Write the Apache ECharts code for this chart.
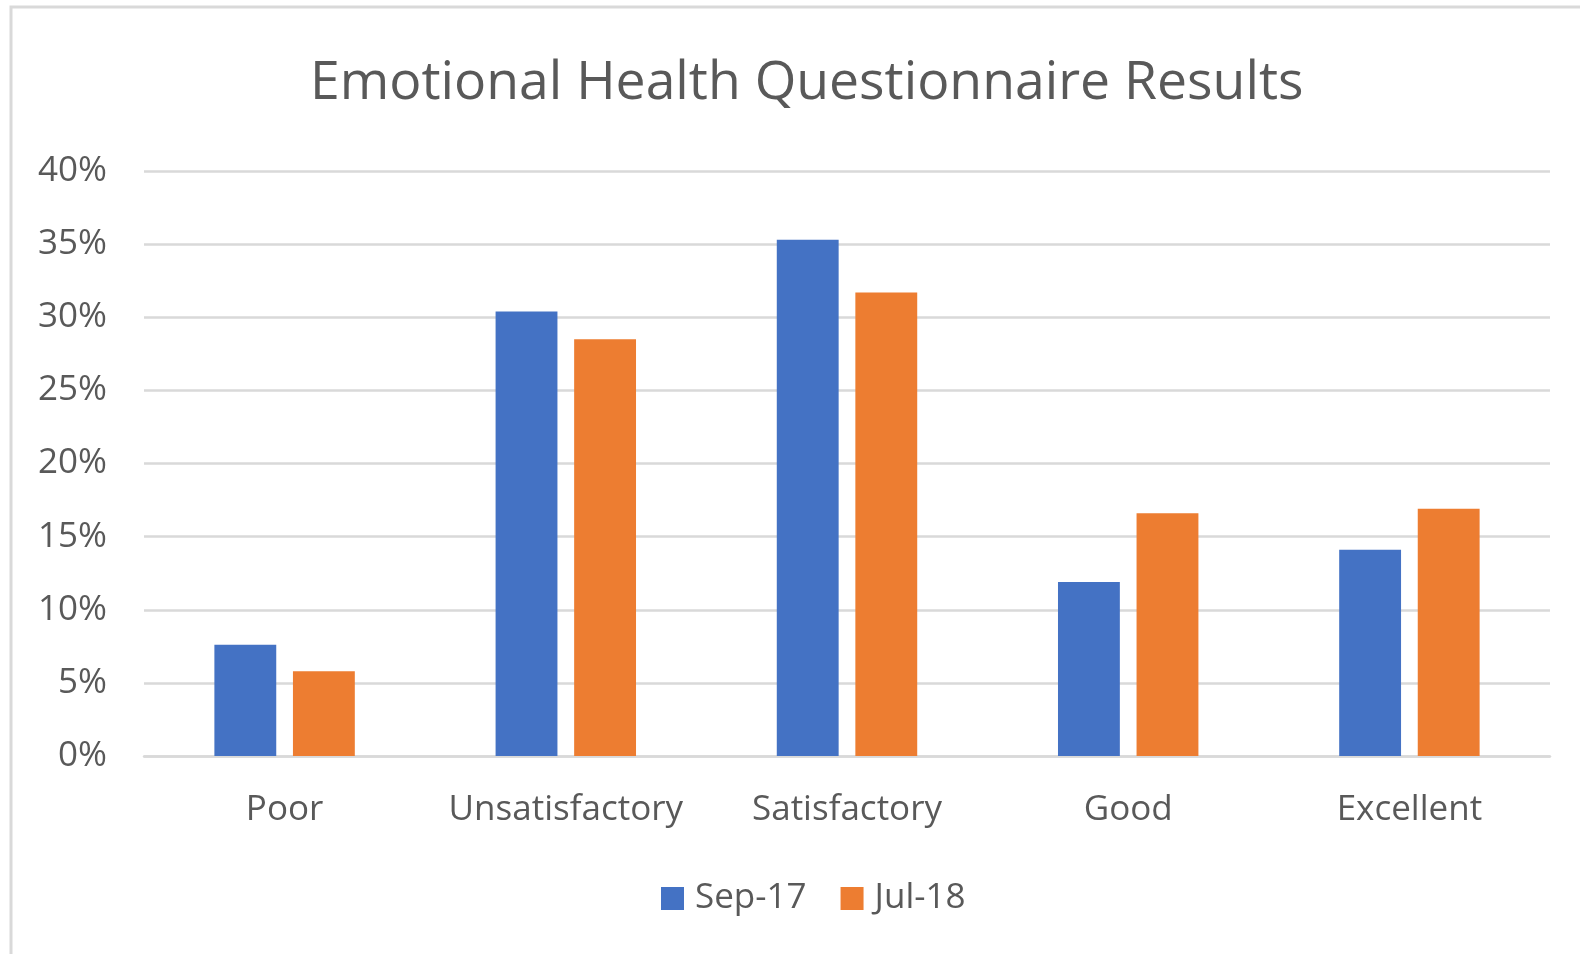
<!DOCTYPE html>
<html>
<head>
<meta charset="utf-8">
<script src="https://cdn.jsdelivr.net/npm/echarts@6/dist/echarts.min.js"></script>
<style>
  html, body { margin: 0; padding: 0; background: #fff; }
  #main { width: 1580px; height: 954px; }
</style>
</head>
<body>
<div id="main"></div>
<script>
// 数据
const categories = ["Poor", "Unsatisfactory", "Satisfactory", "Good", "Excellent"];
const seriesNames = ["Sep-17", "Jul-18"];
const sep17 = [7.6, 30.4, 35.3, 11.9, 14.1];
const jul18 = [5.8, 28.5, 31.7, 16.6, 16.9];
const yTicks = { min: 0, max: 40, interval: 5 };

const textColor = "#595959";
const lineColor = "#d9d9d9";
const fontFamily = "'Open Sans', 'Noto Sans', sans-serif";

const option = {
  backgroundColor: "#fff",
  title: {
    text: "Emotional Health Questionnaire Results",
    left: 305,
    top: 52,
    textStyle: { color: textColor, fontSize: 53.5, fontWeight: "normal", fontFamily: fontFamily }
  },
  graphic: [{
    // 外框
    type: "rect",
    shape: { x: 11, y: 7, width: 1600, height: 1000 },
    style: { fill: "none", stroke: lineColor, lineWidth: 3 },
    silent: true
  }],
  legend: {
    data: seriesNames,
    bottom: 33,
    left: 656,
    itemWidth: 23,
    itemHeight: 23,
    itemGap: 34,
    icon: "rect",
    textStyle: { color: textColor, fontSize: 35, fontFamily: fontFamily, padding: [0, 0, 0, 6] }
  },
  grid: { left: 144, right: 30, top: 171, bottom: 198 },
  xAxis: {
    type: "category",
    data: categories,
    axisLine: { lineStyle: { color: lineColor, width: 2.5 } },
    axisTick: { show: false },
    axisLabel: { color: textColor, fontSize: 35, fontFamily: fontFamily, margin: 37, interval: 0 }
  },
  yAxis: {
    type: "value",
    min: yTicks.min,
    max: yTicks.max,
    interval: yTicks.interval,
    axisLine: { show: false },
    axisTick: { show: false },
    axisLabel: { color: textColor, fontSize: 35, fontFamily: fontFamily, margin: 37, formatter: "{value}%" },
    splitLine: { lineStyle: { color: lineColor, width: 2.5 } }
  },
  series: [
    {
      name: seriesNames[0],
      type: "bar",
      data: sep17,
      barWidth: "22%",
      barGap: "27%",
      itemStyle: { color: "#4472C4" }
    },
    {
      name: seriesNames[1],
      type: "bar",
      data: jul18,
      barWidth: "22%",
      itemStyle: { color: "#ED7D31" }
    }
  ]
};

const myChart = echarts.init(document.getElementById("main"));
myChart.setOption(option);
</script>
</body>
</html>
